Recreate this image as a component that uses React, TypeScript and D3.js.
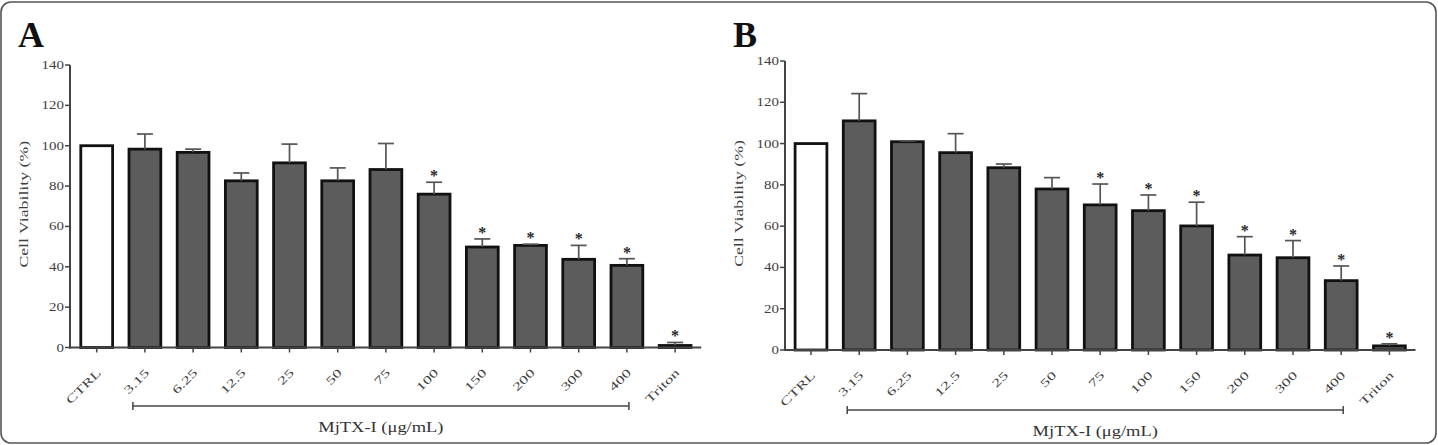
import * as d3 from "d3";

// categories on the x axis (both panels)
const categories = ["CTRL", "3.15", "6.25", "12.5", "25", "50", "75", "100", "150", "200", "300", "400", "Triton"];
const yTicks = [0, 20, 40, 60, 80, 100, 120, 140];

// panel A: mean viability, upper SD, significance
const meanA = [100, 98.3, 96.7, 82.6, 91.5, 82.6, 88.2, 76, 49.8, 50.6, 43.7, 40.7, 1];
const errA = [0, 7.5, 1.6, 3.9, 9.3, 6.4, 12.9, 5.9, 4, 0.6, 6.9, 3.3, 1.5];
const sigA = [false, false, false, false, false, false, false, true, true, true, true, true, true];

// panel B
const meanB = [100, 111, 100.9, 95.6, 88.3, 78, 70.3, 67.5, 60.1, 46, 44.7, 33.6, 2];
const errB = [0, 13.2, 0.4, 9.2, 1.8, 5.5, 10.1, 7.6, 11.5, 8.9, 8.3, 7.1, 1];
const sigB = [false, false, false, false, false, false, true, true, true, true, true, true, true];

const bracketFrom = "3.15";
const bracketTo = "400";
const xTitle = "MjTX-I (μg/mL)";
const yTitle = "Cell Viability (%)";

const FONT = "'Liberation Serif', 'Times New Roman', serif";
const AXIS = "#444";
const TEXT = "#3f3f3f";

type PanelProps = {
  letter: string;
  left: number; // y axis position
  x0: number;
  y0: number; // pixel of value 0
  y140: number;
  bracketY: number;
  mean: number[];
  err: number[];
  sig: boolean[];
};

function Panel({ letter, left, x0, y0, y140, bracketY, mean, err, sig }: PanelProps) {
  const x = d3.scaleBand<string>()
    .domain(categories)
    .range([x0, x0 + 626.6])
    .paddingInner(0.34)
    .paddingOuter(0.17);
  const y = d3.scaleLinear().domain([0, 140]).range([y0, y140]);
  const bw = x.bandwidth();
  const cx = (c: string) => (x(c) ?? 0) + bw / 2;
  const right = x0 + 626.6 + 2;

  const bx1 = cx(bracketFrom) - 12;
  const bx2 = cx(bracketTo) + 2;

  return (
    <g>
      <text x={left - 52} y={47} fontFamily={FONT} fontSize={36} fontWeight="bold" fill="#111">
        {letter}
      </text>

      {/* y axis */}
      <line x1={left} x2={left} y1={y(0) + 1} y2={y(140)} stroke={AXIS} strokeWidth={2} />
      {yTicks.map((t) => (
        <g key={t}>
          <line x1={left - 5} x2={left} y1={y(t)} y2={y(t)} stroke={AXIS} strokeWidth={1.5} />
          <g transform={`translate(${left - 6},${y(t)}) scale(1.3,1)`}>
            <text textAnchor="end" dy="0.35em" fontFamily={FONT} fontSize={11.5} fill={TEXT}>
              {t}
            </text>
          </g>
        </g>
      ))}
      <g transform={`translate(${left - 42},${(y(0) + y(140)) / 2 - 2}) rotate(-90) scale(1.42,1)`}>
        <text textAnchor="middle" fontFamily={FONT} fontSize={12.5} fill={TEXT}>
          {yTitle}
        </text>
      </g>

      {/* bars */}
      {categories.map((c, i) => (
        <rect
          key={c}
          x={x(c)}
          y={y(mean[i])}
          width={bw}
          height={y(0) - y(mean[i])}
          fill={i === 0 ? "#ffffff" : "#5c5c5c"}
          stroke="#111"
          strokeWidth={2.8}
        />
      ))}

      {/* error bars (upper only) */}
      {categories.map((c, i) =>
        err[i] > 0 ? (
          <g key={c} stroke="#555" strokeWidth={1.7}>
            <line x1={cx(c)} x2={cx(c)} y1={y(mean[i])} y2={y(mean[i] + err[i])} />
            <line x1={cx(c) - 8} x2={cx(c) + 8} y1={y(mean[i] + err[i])} y2={y(mean[i] + err[i])} />
          </g>
        ) : null
      )}

      {/* significance stars */}
      {categories.map((c, i) =>
        sig[i] ? (
          <text
            key={c}
            x={cx(c)}
            y={y(mean[i] + err[i]) - 1}
            textAnchor="middle"
            fontFamily={FONT}
            fontSize={16}
            fontWeight="bold"
            fill="#2a2a2a"
          >
            *
          </text>
        ) : null
      )}

      {/* x axis */}
      <line x1={left - 1} x2={right} y1={y(0)} y2={y(0)} stroke={AXIS} strokeWidth={2} />
      {categories.map((c) => (
        <g key={c}>
          <line x1={cx(c)} x2={cx(c)} y1={y(0)} y2={y(0) + 5} stroke={AXIS} strokeWidth={1.5} />
          <g transform={`translate(${cx(c) + 5},${y(0) + 26}) rotate(-45) scale(1.5,1)`}>
            <text textAnchor="end" fontFamily={FONT} fontSize={11.5} fill={TEXT}>
              {c}
            </text>
          </g>
        </g>
      ))}

      {/* concentration bracket */}
      <g stroke={AXIS} strokeWidth={1.5}>
        <line x1={bx1} x2={bx2} y1={bracketY} y2={bracketY} />
        <line x1={bx1} x2={bx1} y1={bracketY - 4} y2={bracketY + 4} />
        <line x1={bx2} x2={bx2} y1={bracketY - 4} y2={bracketY + 4} />
      </g>
      <g transform={`translate(${(bx1 + bx2) / 2},${bracketY + 26}) scale(1.32,1)`}>
        <text textAnchor="middle" fontFamily={FONT} fontSize={14} fill="#333">
          {xTitle}
        </text>
      </g>
    </g>
  );
}

export default function App() {
  return (
    <svg
      width={1438}
      height={445}
      style={{ position: "absolute", left: 0, top: 0, background: "#fff" }}
    >
      <rect x={1} y={2} width={1435} height={441} rx={10} fill="#fff" stroke="#555" strokeWidth={1.6} />
      <Panel letter="A" left={70} x0={72.6} y0={347.5} y140={65} bracketY={406}
        mean={meanA} err={errA} sig={sigA} />
      <Panel letter="B" left={785} x0={786.9} y0={350} y140={61} bracketY={410}
        mean={meanB} err={errB} sig={sigB} />
    </svg>
  );
}
